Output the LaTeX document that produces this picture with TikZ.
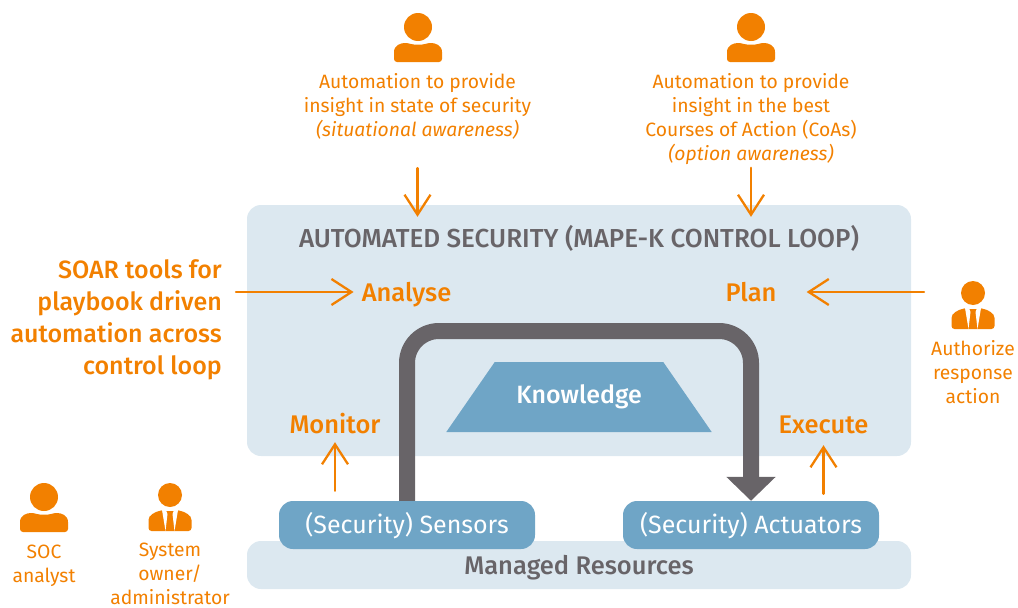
\documentclass[tikz,border=0pt]{standalone}
\usepackage{fontspec}
\setmainfont{Fira Sans}
\newfontfamily\medfont{Fira Sans Medium}
\definecolor{soarorange}{HTML}{F28000}
\definecolor{panelblue}{HTML}{DCE8F0}
\definecolor{boxblue}{HTML}{6FA5C6}
\definecolor{loopgray}{HTML}{686468}
\tikzstyle{panel}=[fill=panelblue,rounded corners=14pt,inner sep=0]
\tikzstyle{block}=[fill=boxblue,rounded corners=14pt,inner sep=0,minimum width=256pt,minimum height=48pt,text=white,text height=22pt,text depth=5pt,font=\fontsize{25}{30}\selectfont]
\tikzstyle{note}=[text=soarorange,align=center,inner sep=0,font=\fontsize{19.3}{24}\selectfont]
\tikzstyle{mape}=[text=soarorange,inner sep=0,text height=23pt,text depth=5pt,font=\fontsize{25.5}{30}\selectfont\medfont]
\tikzstyle{arrow}=[soarorange,line width=2.3pt,line cap=round,-{Straight Barb[length=20pt,width=26pt,line width=2.3pt]}]
\tikzstyle{loopline}=[loopgray,line width=16pt,rounded corners=32pt,-{Triangle[length=24pt,width=48pt]}]
\usetikzlibrary{shapes.geometric,arrows.meta,positioning,calc}
\tikzset{
  user/.pic={
    \fill[soarorange] (0,0) circle (14);
    \fill[soarorange,rounded corners=3pt] (-24,35) -- (-24,28) .. controls (-24,18) and (-17,16) .. (-10,16) .. controls (-4,18) and (4,18) .. (10,16) .. controls (17,16) and (24,18) .. (24,28) -- (24,35) -- cycle;
  },
  suit/.pic={
    \fill[soarorange] (0,0) circle (12);
    \fill[soarorange,rounded corners=3pt] (-21.5,36) -- (-21.5,28) .. controls (-21.5,20) and (-15,17) .. (-7,15) -- (7,15) .. controls (15,17) and (21.5,20) .. (21.5,28) -- (21.5,36) -- cycle;
    \fill[white] (-8,15) -- (-4,15) -- (-2.5,19) -- (-4.5,36) -- cycle;
    \fill[white] (8,15) -- (4,15) -- (2.5,19) -- (4.5,36) -- cycle;
    \fill[white] (-4,14.5) rectangle (4,15.5);
  }
}
\begin{document}
\begin{tikzpicture}[x=1pt,y=-1pt]
\useasboundingbox (0,0) rectangle (1018,608);
\node (panel) [panel,minimum width=664pt,minimum height=251pt] at (579,330.5) {};
\node (managed) [panel,minimum width=664pt,minimum height=48pt,text=loopgray,text height=23pt,text depth=5pt,font=\fontsize{25.5}{30}\selectfont\medfont] at (579,565) {Managed Resources};
\node (sensors) [block] at (407,525) {(Security) Sensors};
\node (actuators) [block] at (751,525) {(Security) Actuators};
\node (title) [text=loopgray,inner sep=0,text height=22pt,text depth=5pt,font=\fontsize{26}{30}\selectfont\medfont] at (579,239) {AUTOMATED SECURITY (MAPE-K CONTROL LOOP)};
\node (knowledge) [trapezium,trapezium angle=34,trapezium stretches=true,fill=boxblue,minimum width=266pt,minimum height=70pt,inner sep=0,text=white,font=\fontsize{25}{30}\selectfont\medfont] at (579,397) {\raisebox{-2pt}{Knowledge}};

\node (analyse) [mape] at (406.5,292) {Analyse};
\node (plan) [mape] at (751,292) {Plan};
\node (monitor) [mape] at (335,424) {Monitor};
\node (execute) [mape] at (823.5,424) {Execute};
\node (soar) [text=soarorange,align=right,inner sep=0,anchor=east,font=\fontsize{25}{32}\selectfont\medfont] at (222,320) {SOAR tools for\\playbook driven\\automation across\\control loop};

\pic at (418,27) {user};
\pic at (751,27) {user};
\pic at (44,497) {user};
\pic at (170,495) {suit};
\pic at (973,293) {suit};
\node (insight) [note] at (417.5,106) {Automation to provide\\insight in state of security\\\textit{(situational awareness)}};
\node (coa) [note] at (751,119) {Automation to provide\\insight in the best\\Courses of Action (CoAs)\\\textit{(option awareness)}};
\node (soc) [note] at (44,566) {SOC\\analyst};
\node (owner) [note] at (170,574) {System\\owner/\\administrator};
\node (authorize) [note] at (973,372.5) {Authorize\\response\\action};
\coordinate (authfrom) at (924,292);
\coordinate (loopleft) at (407,331);
\coordinate (loopright) at (751,331);

\draw[loopline] (loopleft|-sensors.north) -- (loopleft) -- (loopright) -- (loopright|-actuators.north);
\draw[arrow,shorten <=29pt,shorten >=-12pt] (insight.south) -- (insight.south|-panel.north);
\draw[arrow,shorten <=3pt,shorten >=-12pt] (coa.south) -- (coa.south|-panel.north);
\draw[arrow,shorten <=14pt,shorten >=8pt] (soar.east|-analyse) -- (analyse);
\draw[arrow,shorten >=30pt] (authfrom) -- (authfrom-|plan.east);
\draw[arrow,shorten <=10pt,shorten >=4pt] (monitor|-sensors.north) -- (monitor);
\draw[arrow,shorten <=7pt,shorten >=7pt] (execute|-actuators.north) -- (execute);
\end{tikzpicture}
\end{document}
